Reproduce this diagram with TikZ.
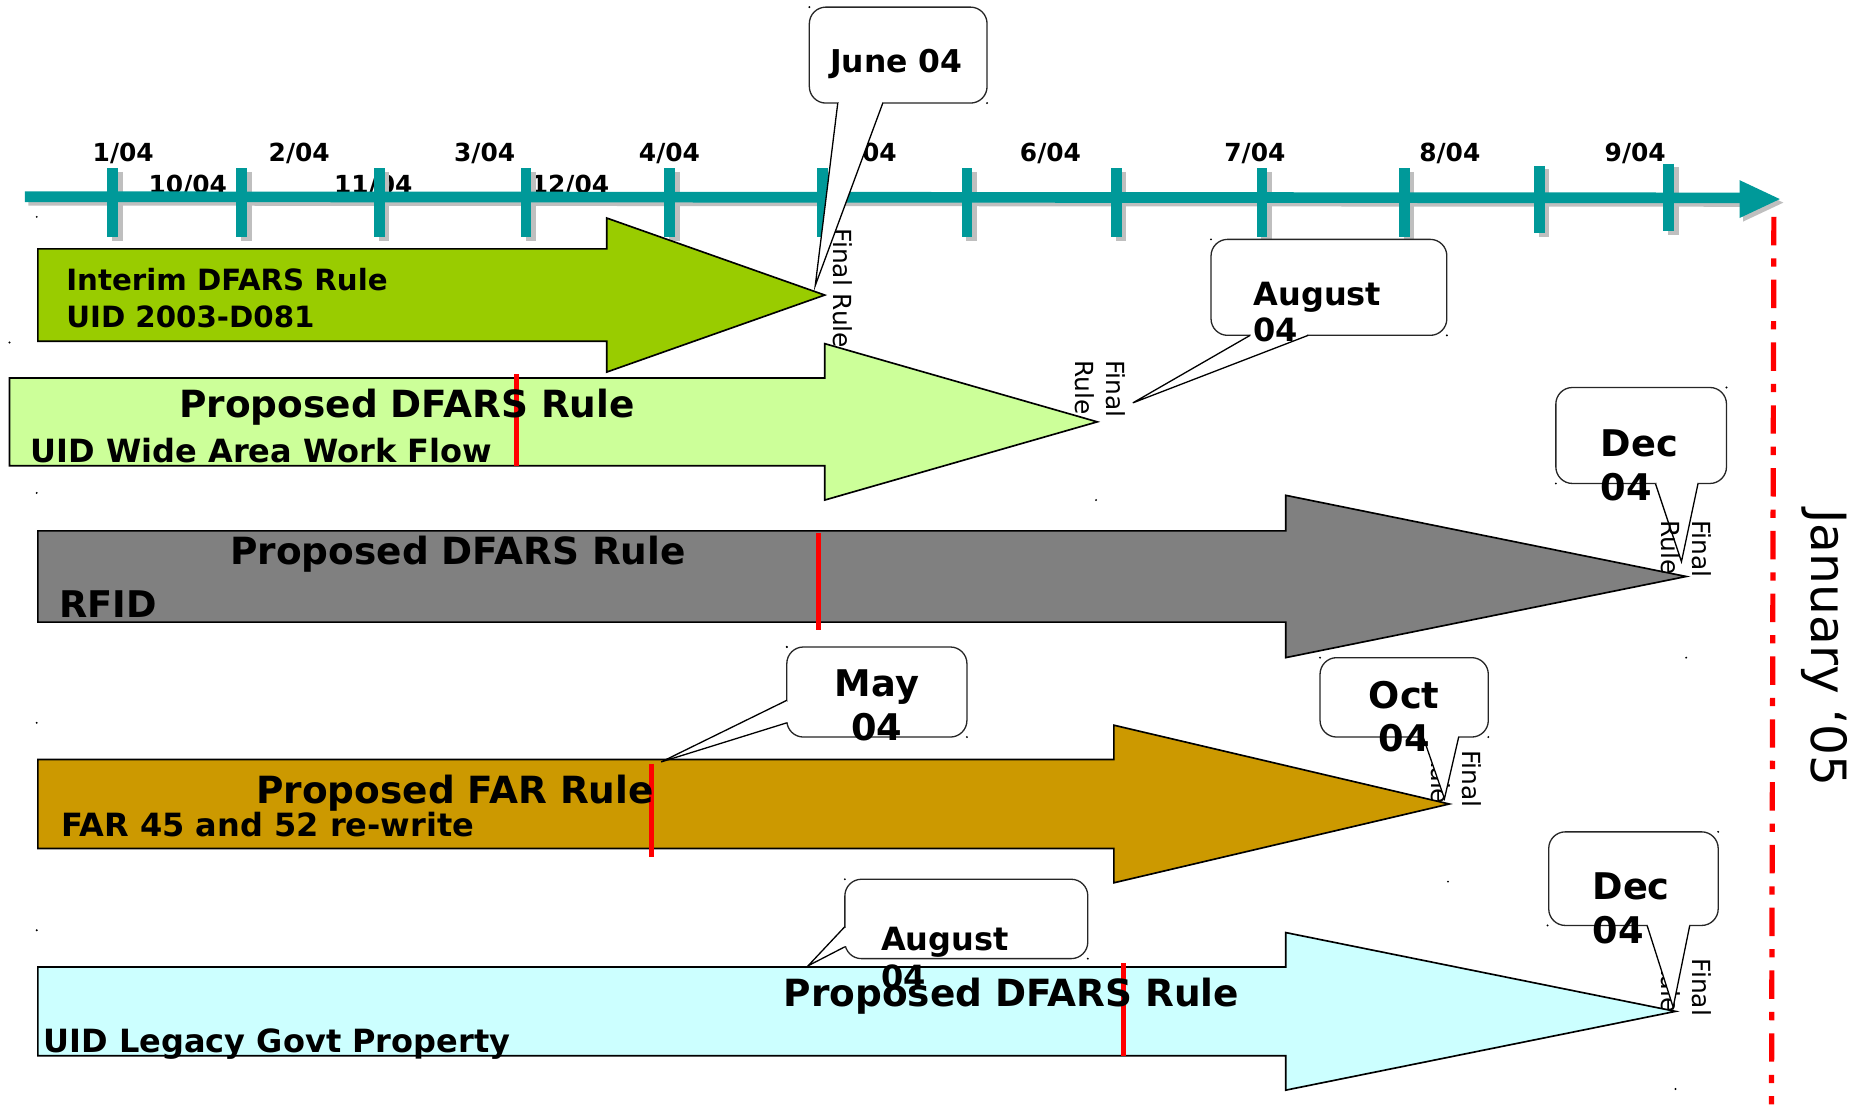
\documentclass[tikz,border=0pt]{standalone}
\usepackage{fontspec}
\setmainfont{DejaVu Sans}
\definecolor{axisteal}{HTML}{009999}
\definecolor{axisshade}{HTML}{BFBFBF}
\definecolor{interimgreen}{HTML}{99CC00}
\definecolor{widegreen}{HTML}{CCFF99}
\definecolor{rfidgray}{HTML}{808080}
\definecolor{fargold}{HTML}{CC9900}
\definecolor{legacycyan}{HTML}{CCFFFF}
\begin{document}
\begin{tikzpicture}[x=1pt,y=-1pt,
  every node/.style={inner sep=0pt,outer sep=0pt},
  datelab/.style={font=\fontsize{21}{21}\selectfont\bfseries,anchor=base},
  axisline/.style={line width=9pt,draw=axisteal},
  axisshadow/.style={line width=9pt,draw=axisshade},
  bigarrow/.style={draw=black,line width=1.4pt,line join=miter},
  headline/.style={font=\fontsize{31.6}{31.6}\selectfont\bfseries,anchor=base},
  subline/.style={font=\fontsize{27}{27}\selectfont\bfseries,anchor=base west},
  interimline/.style={font=\fontsize{24.7}{24.7}\selectfont\bfseries,anchor=base west},
  milestone/.style={draw=red,line width=4pt},
  finalrule/.style={font=\fontsize{21}{21}\selectfont,rotate=-90,anchor=base west},
  calloutbox/.style={draw=black!85,line width=1.1pt,fill=white,rounded corners=14pt},
  calledge/.style={draw=black,line width=1.1pt,line join=miter},
  callsmall/.style={font=\fontsize{27}{27}\selectfont\bfseries,anchor=base west},
  callbig/.style={font=\fontsize{31}{31}\selectfont\bfseries},
  speck/.style={fill=black}
]
\useasboundingbox (0,0) rectangle (1568,932);

% month labels (drawn first, the axis runs over the lower row)
\node[datelab] (l104) at (104,136.5) {1/04};
\node[datelab] (l204) at (252.5,136.5) {2/04};
\node[datelab] (l304) at (409,136.5) {3/04};
\node[datelab] (l404) at (565,136.5) {4/04};
\node[datelab] (l504) at (731,136.5) {5/04};
\node[datelab] (l604) at (886.5,136.5) {6/04};
\node[datelab] (l704) at (1059,136.5) {7/04};
\node[datelab] (l804) at (1223.5,136.5) {8/04};
\node[datelab] (l904) at (1380,136.5) {9/04};
\node[datelab] (l1004) at (158.5,163) {10/04};
\node[datelab] (l1104) at (315,163) {11/04};
\node[datelab] (l1204) at (481,163) {12/04};

% time axis with drop shadow
\coordinate (axisstart) at (21,166);
\coordinate (axisend) at (1470,167);
\draw[axisshadow] ([shift={(3,3)}]axisstart) -- ([shift={(3,3)}]axisend);
\fill[axisshade] (1471,155) -- (1505,171) -- (1471,187) -- cycle;
\foreach \x/\t/\b in {95/142/200,204/142/200,320/142/200,444/142/200,565/142/200,694/142/200,
                      816/142/200,942/142/200,1065/142/200,1185/142/200,1299/140/197,1408/138/195}
  \draw[axisshadow] (\x+4,\t+3) -- (\x+4,\b+3);
\draw[axisline] (axisstart) -- (axisend);
\fill[axisteal] (1468,152) -- (1502,168) -- (1468,184) -- cycle;
\foreach \x/\t/\b in {95/142/200,204/142/200,320/142/200,444/142/200,565/142/200,694/142/200,
                      816/142/200,942/142/200,1065/142/200,1185/142/200,1299/140/197,1408/138/195}
  \draw[axisline] (\x,\t) -- (\x,\b);

% end-of-arrow labels that sit behind the arrows and callouts
\node[finalrule] (fr1) at (703,193) {Final Rule};
\node[finalrule] (fr2a) at (934,304) {Final};
\node[finalrule] (fr2b) at (908,304) {Rule};
\node[finalrule] (fr4a) at (1234,633) {Final};
\node[finalrule] (fr4b) at (1208,633) {Rule};
\node[finalrule] (fr5a) at (1428,809) {Final};
\node[finalrule] (fr5b) at (1402,809) {Rule};

% rule arrows
\draw[bigarrow,fill=interimgreen] (32,210) -- (512,210) -- (512,184) -- (696,249)
  -- (512,314) -- (512,288) -- (32,288) -- cycle;
\draw[bigarrow,fill=widegreen] (8,319) -- (696,319) -- (696,290) -- (926,356)
  -- (696,422) -- (696,393) -- (8,393) -- cycle;
\draw[bigarrow,fill=rfidgray] (32,448) -- (1085,448) -- (1085,418) -- (1423,486.5)
  -- (1085,555) -- (1085,525) -- (32,525) -- cycle;
\draw[bigarrow,fill=fargold] (32,641) -- (940,641) -- (940,612) -- (1223,678.5)
  -- (940,745) -- (940,716) -- (32,716) -- cycle;
\draw[bigarrow,fill=legacycyan] (32,816) -- (1085,816) -- (1085,787) -- (1414,853.5)
  -- (1085,920) -- (1085,891) -- (32,891) -- cycle;

% current-status markers
\draw[milestone] (436,316) -- (436,393);
\draw[milestone] (691,450) -- (691,532);
\draw[milestone] (550,645) -- (550,723);
\draw[milestone] (948,813) -- (948,891);

% arrow captions
\node[interimline] (a1a) at (56,245.5) {Interim DFARS Rule};
\node[interimline] (a1b) at (56,276) {UID 2003-D081};
\node[headline] (a2a) at (343.5,352) {Proposed DFARS Rule};
\node[subline] (a2b) at (26,390) {UID Wide Area Work Flow};
\node[headline] (a3a) at (386.5,476) {Proposed DFARS Rule};
\node[font=\fontsize{31}{31}\selectfont\bfseries,anchor=base west] (a3b) at (50,521) {RFID};
\node[headline] (a4a) at (384,678) {Proposed FAR Rule};
\node[subline] (a4b) at (52,706) {FAR 45 and 52 re-write};
\node[headline] (a5a) at (853.5,849) {Proposed DFARS Rule};
\node[subline] (a5b) at (37,888) {UID Legacy Govt Property};

% callouts: rounded box, white tail, tail edges, text
% June 04
\draw[calloutbox] (683,6) rectangle (833,87);
\fill[white] (708,84.5) rectangle (744,89);
\fill[white] (707,87) -- (688,241) -- (745,87) -- cycle;
\draw[calledge] (707,87) -- (688,241) -- (745,87);
\node[font=\fontsize{26.5}{26.5}\selectfont\bfseries,anchor=base] (cjune) at (756.5,61) {June 04};

% August 04 (upper)
\draw[calloutbox] (1022,202) rectangle (1221,283);
\fill[white] (1056,280.5) rectangle (1103,285);
\fill[white] (1055,283) -- (956,340) -- (1104,283) -- cycle;
\draw[calledge] (1055,283) -- (956,340) -- (1104,283);
\node[callsmall] (caug1a) at (1058,257.5) {August};
\node[callsmall] (caug1b) at (1058,288.5) {04};

% Dec 04 (upper)
\draw[calloutbox] (1313,327) rectangle (1457,408);
\fill[white] (1398,405.5) rectangle (1432,410);
\fill[white] (1397,408) -- (1419,474) -- (1433,408) -- cycle;
\draw[calledge] (1397,408) -- (1419,474) -- (1433,408);
\node[callbig,anchor=base west] (cdec1a) at (1351,385) {Dec};
\node[callbig,anchor=base west] (cdec1b) at (1351,422) {04};
\node[finalrule] (fr3a) at (1428,439) {Final};
\node[finalrule] (fr3b) at (1402,439) {Rule};

% May 04
\draw[calloutbox] (664,546) rectangle (816,622);
\fill[white] (661.5,592) rectangle (666.5,609);
\fill[white] (664,591) -- (558,643) -- (664,610) -- cycle;
\draw[calledge] (664,591) -- (558,643) -- (664,610);
\node[callbig,anchor=base] (cmaya) at (740,587.5) {May};
\node[callbig,anchor=base] (cmayb) at (740,625) {04};

% Oct 04
\draw[calloutbox] (1114,555) rectangle (1256,622);
\fill[white] (1202,619.5) rectangle (1230,624);
\fill[white] (1201,622) -- (1219,674) -- (1231,622) -- cycle;
\draw[calledge] (1201,622) -- (1219,674) -- (1231,622);
\node[callbig,anchor=base] (cocta) at (1185,598) {Oct};
\node[callbig,anchor=base] (coctb) at (1185,634) {04};

% August 04 (lower)
\draw[calloutbox] (713,742) rectangle (918,809);
\fill[white] (710.5,783) rectangle (715.5,798);
\fill[white] (713,782) -- (682,815) -- (713,799) -- cycle;
\draw[calledge] (713,782) -- (682,815) -- (713,799);
\node[callsmall] (caug2a) at (743.5,802) {August};
\node[callsmall] (caug2b) at (743.5,834) {04};

% Dec 04 (lower)
\draw[calloutbox] (1307,702) rectangle (1450,781);
\fill[white] (1391,778.5) rectangle (1425,783);
\fill[white] (1390,781) -- (1412,850) -- (1426,781) -- cycle;
\draw[calledge] (1390,781) -- (1412,850) -- (1426,781);
\node[callbig,anchor=base west] (cdec2a) at (1344,759) {Dec};
\node[callbig,anchor=base west] (cdec2b) at (1344,796) {04};

% deadline
\draw[red,line width=4.4pt,dash pattern=on 24pt off 11pt on 7pt off 11pt] (1497,183) -- (1495,932);
\node[font=\fontsize{41}{41}\selectfont,rotate=-90,anchor=base west] (jan) at (1529,430) {January ‘05};

% stray specks
\foreach \p in {(31,183),(8,289),(31,416),(31,610),(31,785),(925,422),(683,6),(833,87),
                (1022,202),(1221,283),(1457,327),(1313,408),(664,546),(816,622),
                (1114,555),(1256,622),(1423,555),(1450,702),(1306,781),(713,742),
                (918,809),(1222,744),(1414,919),(664,546)}
  \fill[speck] \p circle (0.9);
\end{tikzpicture}
\end{document}
